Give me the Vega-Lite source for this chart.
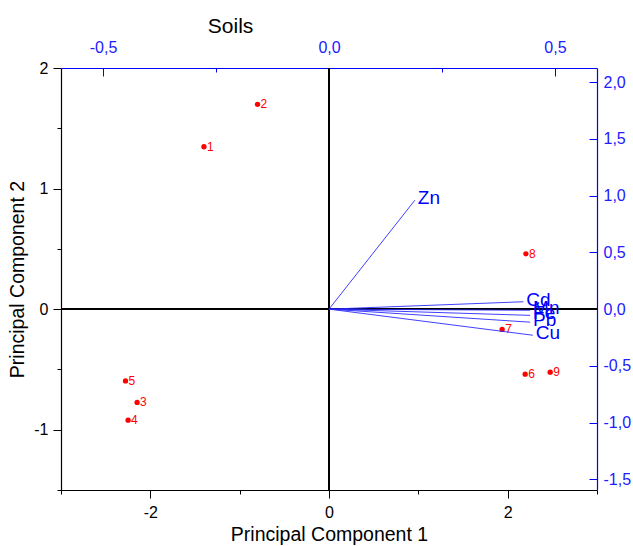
{
  "$schema": "https://vega.github.io/schema/vega-lite/v6.json",
  "autosize": {"type": "none"},
  "width": 536,
  "height": 422,
  "padding": {"left": 61, "top": 68, "right": 36, "bottom": 56},
  "background": "white",
  "title": {"text": "Soils", "anchor": "start", "dx": 200, "dy": 2, "fontSize": 21, "fontWeight": "normal", "font": "Liberation Sans", "color": "black"},
  "config": {
    "view": {"stroke": null},
    "axis": {"grid": false, "labelFont": "Liberation Sans", "titleFont": "Liberation Sans", "titleFontWeight": "normal", "labelFontSize": 16, "titleFontSize": 19.5, "tickWidth": 1, "domainWidth": 1.2}
  },
  "datasets": {
    "scores": [
      {"id": "1", "pc1": -1.40, "pc2": 1.347},
      {"id": "2", "pc1": -0.80, "pc2": 1.699},
      {"id": "3", "pc1": -2.148, "pc2": -0.774},
      {"id": "4", "pc1": -2.249, "pc2": -0.921},
      {"id": "5", "pc1": -2.278, "pc2": -0.595},
      {"id": "6", "pc1": 2.196, "pc2": -0.539},
      {"id": "7", "pc1": 1.938, "pc2": -0.168},
      {"id": "8", "pc1": 2.204, "pc2": 0.459},
      {"id": "9", "pc1": 2.476, "pc2": -0.523}
    ],
    "loadings": [
      {"var": "Zn", "l1": 0.19, "l2": 0.96},
      {"var": "Cd", "l1": 0.43, "l2": 0.065},
      {"var": "Mn", "l1": 0.445, "l2": -0.01},
      {"var": "Fe", "l1": 0.445, "l2": -0.055},
      {"var": "Pb", "l1": 0.445, "l2": -0.115},
      {"var": "Cu", "l1": 0.451, "l2": -0.23}
    ]
  },
  "layer": [
    {
      "data": {"name": "scores"},
      "layer": [
        {
          "mark": {"type": "point", "filled": true, "color": "#ff0000", "size": 28, "opacity": 1},
          "encoding": {
            "x": {"field": "pc1", "type": "quantitative", "scale": {"domain": [-3, 3], "nice": false, "zero": false},
              "axis": {"orient": "bottom", "title": "Principal Component 1", "values": [-3, -2, -1, 0, 1, 2, 3],
                "labelExpr": "datum.value % 2 === 0 ? '' + datum.value : ''",
                "tickSize": {"condition": {"test": "datum.value % 2 === 0", "value": 8}, "value": 4},
                "labelPadding": 6, "titlePadding": 5, "domainColor": "black", "tickColor": "black", "labelColor": "black", "titleColor": "black"}},
            "y": {"field": "pc2", "type": "quantitative", "scale": {"domain": [-1.5, 2], "nice": false, "zero": false},
              "axis": {"orient": "left", "title": "Principal Component 2", "values": [-1.5, -1, -0.5, 0, 0.5, 1, 1.5, 2],
                "labelExpr": "datum.value % 1 === 0 ? '' + datum.value : ''",
                "tickSize": {"condition": {"test": "datum.value % 1 === 0", "value": 8}, "value": 4},
                "labelPadding": 5, "titlePadding": 6, "domainColor": "black", "tickColor": "black", "labelColor": "black", "titleColor": "black"}}
          }
        },
        {
          "mark": {"type": "text", "color": "#ff0000", "fontSize": 12, "align": "left", "baseline": "middle", "dx": 3, "font": "Liberation Sans"},
          "encoding": {
            "x": {"field": "pc1", "type": "quantitative", "title": "Principal Component 1"},
            "y": {"field": "pc2", "type": "quantitative", "title": "Principal Component 2"},
            "text": {"field": "id"}
          }
        },
        {
          "mark": {"type": "rule", "color": "black", "strokeWidth": 1},
          "encoding": {"x": {"datum": 0, "type": "quantitative", "title": "Principal Component 1"}}
        },
        {
          "mark": {"type": "rule", "color": "black", "strokeWidth": 1},
          "encoding": {"y": {"datum": 0, "type": "quantitative", "title": "Principal Component 2"}}
        }
      ]
    },
    {
      "data": {"name": "loadings"},
      "layer": [
        {
          "mark": {"type": "rule", "color": "#2a2aff", "strokeWidth": 0.9},
          "encoding": {
            "x": {"field": "l1", "type": "quantitative", "scale": {"domain": [-0.593, 0.593], "nice": false, "zero": false},
              "axis": {"orient": "top", "title": null, "values": [-0.5, -0.25, 0, 0.25, 0.5],
                "labelExpr": "datum.value % 0.5 === 0 ? replace(replace(format(datum.value, '.1f'), '.', ','), '\u2212', '-') : ''",
                "tickSize": {"condition": {"test": "datum.value % 0.5 === 0", "value": -8}, "value": -4},
                "labelPadding": 21, "domainColor": "#0000ff", "tickColor": "#0000ff", "labelColor": "#2020ff"}},
            "y": {"field": "l2", "type": "quantitative", "scale": {"domain": [-1.594, 2.125], "nice": false, "zero": false},
              "axis": {"orient": "right", "title": null, "values": [-1.5, -1.25, -1, -0.75, -0.5, -0.25, 0, 0.25, 0.5, 0.75, 1, 1.25, 1.5, 1.75, 2],
                "labelExpr": "datum.value % 0.5 === 0 ? replace(replace(format(datum.value, '.1f'), '.', ','), '\u2212', '-') : ''",
                "tickSize": {"condition": {"test": "datum.value % 0.5 === 0", "value": -8}, "value": -4},
                "labelPadding": 14, "domainColor": "#0000ff", "tickColor": "#0000ff", "labelColor": "#2020ff"}},
            "x2": {"datum": 0},
            "y2": {"datum": 0}
          }
        },
        {
          "mark": {"type": "text", "color": "#0000ff", "fontSize": 19, "align": "left", "baseline": "middle", "dx": 3, "dy": -2, "font": "Liberation Sans"},
          "encoding": {
            "x": {"field": "l1", "type": "quantitative"},
            "y": {"field": "l2", "type": "quantitative"},
            "text": {"field": "var"}
          }
        }
      ]
    }
  ],
  "resolve": {"scale": {"x": "independent", "y": "independent"}, "axis": {"x": "independent", "y": "independent"}}
}
